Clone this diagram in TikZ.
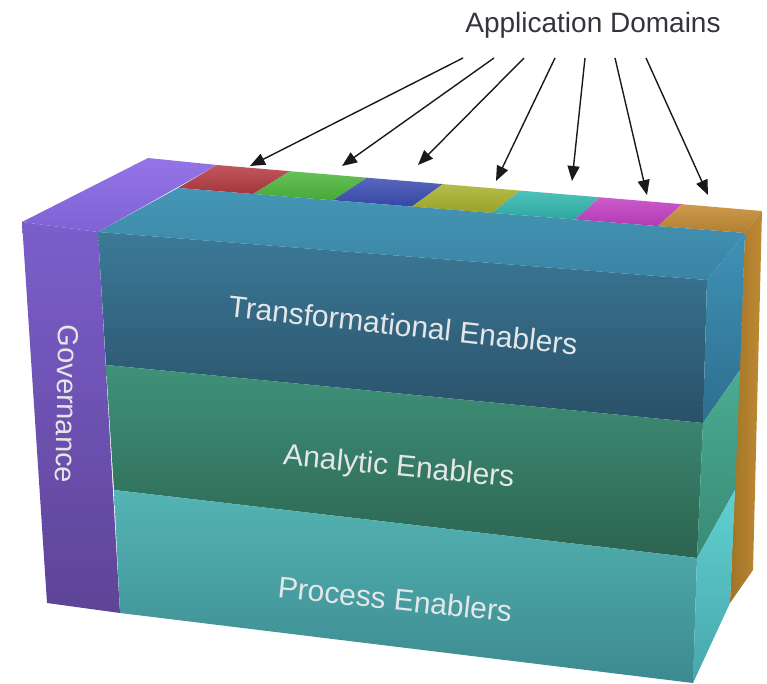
\documentclass[tikz,border=0pt]{standalone}
\usepackage{fontspec}
\setmainfont{Liberation Sans}
\usetikzlibrary{arrows.meta}
\definecolor{purpTopA}{HTML}{9474E6}
\definecolor{purpTopB}{HTML}{8062D4}
\definecolor{purpFrA}{HTML}{7C5ECC}
\definecolor{purpFrB}{HTML}{5E4496}
\definecolor{tRed}{HTML}{B63A42}
\definecolor{tGreen}{HTML}{4CB63C}
\definecolor{tBlue}{HTML}{3A4CB2}
\definecolor{tYellow}{HTML}{A8B02C}
\definecolor{tCyan}{HTML}{30B6AE}
\definecolor{tMag}{HTML}{C23EC2}
\definecolor{tOrange}{HTML}{C89038}
\definecolor{orRA}{HTML}{C08A34}
\definecolor{orRB}{HTML}{A07426}
\definecolor{trTopA}{HTML}{4596B6}
\definecolor{trTopB}{HTML}{3A84A4}
\definecolor{trFrA}{HTML}{3B7A98}
\definecolor{trFrB}{HTML}{2A5068}
\definecolor{trRA}{HTML}{3E92B6}
\definecolor{trRB}{HTML}{2F6E8E}
\definecolor{anFrA}{HTML}{3F927A}
\definecolor{anFrB}{HTML}{2C6450}
\definecolor{anRA}{HTML}{4AAC92}
\definecolor{anRB}{HTML}{3A8A74}
\definecolor{prFrA}{HTML}{54B4B4}
\definecolor{prFrB}{HTML}{3C8A90}
\definecolor{prRA}{HTML}{60D0D0}
\definecolor{prRB}{HTML}{48A6AC}
\definecolor{lblgray}{HTML}{E4E6E8}
\definecolor{titlecol}{HTML}{34343E}
\definecolor{arrcol}{HTML}{1A1A1A}
\begin{document}
\begin{tikzpicture}[x=1pt,y=-1pt,
  lbl/.style={text=lblgray,font=\fontsize{30}{36}\selectfont,inner sep=0pt},
  govlbl/.style={text=lblgray,font=\fontsize{29}{34}\selectfont,inner sep=0pt},
  titlelbl/.style={text=titlecol,font=\fontsize{28}{34}\selectfont,inner sep=0pt},
  arr/.style={draw=arrcol,line width=1.4pt,-{Triangle[length=15pt,width=12pt]}}]
\useasboundingbox (0,0) rectangle (767,684);
% key points
\coordinate (P1) at (22,222);
\coordinate (P2) at (148,158);
\coordinate (P3) at (217,165);
\coordinate (P4) at (98,232);
\coordinate (P5) at (120,613);
\coordinate (P6) at (47,603);
% tab back edge
\coordinate (B0) at (217,165);
\coordinate (B1) at (290,171.2);
\coordinate (B2) at (367,177.7);
\coordinate (B3) at (443,184.1);
\coordinate (B4) at (520,190.6);
\coordinate (B5) at (600,197.3);
\coordinate (B6) at (682,204.2);
\coordinate (B7) at (762,211);
% tab front edge
\coordinate (F0) at (178,188);
\coordinate (F1) at (253,194);
\coordinate (F2) at (333,200.3);
\coordinate (F3) at (412,206.6);
\coordinate (F4) at (492,212.9);
\coordinate (F5) at (575,219.5);
\coordinate (F6) at (658,226.1);
\coordinate (F7) at (745,233);
% layer corners
\coordinate (L1) at (106,365);
\coordinate (L2) at (114,490);
\coordinate (R0) at (707,280);
\coordinate (R1) at (703,423);
\coordinate (R2) at (697,558);
\coordinate (R3) at (693,683);
\coordinate (K1) at (740,370);
\coordinate (K2) at (735,490);
\coordinate (K3) at (730,603);
\coordinate (O1) at (753,570);

% Governance
\shade[top color=purpTopA,bottom color=purpTopB] (P1)--(P2)--(P3)--(P4)--cycle;
\shade[top color=purpFrA,bottom color=purpFrB] (P1)--(P4)--(P5)--(P6)--cycle;
% application domain tabs
\shade[top color=tRed!85!white,bottom color=tRed!90!black] (B0)--(B1)--(F1)--(F0)--cycle;
\shade[top color=tGreen!85!white,bottom color=tGreen!92!black] (B1)--(B2)--(F2)--(F1)--cycle;
\shade[top color=tBlue!85!white,bottom color=tBlue!92!black] (B2)--(B3)--(F3)--(F2)--cycle;
\shade[top color=tYellow!85!white,bottom color=tYellow!92!black] (B3)--(B4)--(F4)--(F3)--cycle;
\shade[top color=tCyan!85!white,bottom color=tCyan!92!black] (B4)--(B5)--(F5)--(F4)--cycle;
\shade[top color=tMag!85!white,bottom color=tMag!92!black] (B5)--(B6)--(F6)--(F5)--cycle;
\shade[top color=tOrange!90!white,bottom color=tOrange!88!black] (B6)--(B7)--(F7)--(F6)--cycle;
\shade[left color=orRB,right color=orRA] (F7)--(B7)--(O1)--(K3)--cycle;
% Transformational layer
\shade[top color=trTopA,bottom color=trTopB] (P4)--(F0)--(F7)--(R0)--cycle;
\shade[top color=trFrA,bottom color=trFrB] (P4)--(R0)--(R1)--(L1)--cycle;
\shade[top color=trRA,bottom color=trRB] (R0)--(F7)--(K1)--(R1)--cycle;
% Analytic layer
\shade[top color=anFrA,bottom color=anFrB] (L1)--(R1)--(R2)--(L2)--cycle;
\shade[top color=anRA,bottom color=anRB] (R1)--(K1)--(K2)--(R2)--cycle;
% Process layer
\shade[top color=prFrA,bottom color=prFrB] (L2)--(R2)--(R3)--(P5)--cycle;
\shade[top color=prRA,bottom color=prRB] (R2)--(K2)--(K3)--(R3)--cycle;

% labels
\node[lbl,anchor=base,rotate=-6.3] (trans) at (402,336) {Transformational Enablers};
\node[lbl,anchor=base,rotate=-5.5] (anal) at (398,476) {Analytic Enablers};
\node[lbl,anchor=base,rotate=-6] (proc) at (394,610) {Process Enablers};
\node[govlbl,rotate=-91] (gov) at (67,404) {Governance};
\node[titlelbl,anchor=base] (title) at (593,33) {Application Domains};

% arrows
\coordinate (s1) at (463,58); \coordinate (t1) at (250,166);
\coordinate (s2) at (494,58); \coordinate (t2) at (342,166);
\coordinate (s3) at (524,58); \coordinate (t3) at (418,165);
\coordinate (s4) at (555,58); \coordinate (t4) at (496,181);
\coordinate (s5) at (585,58); \coordinate (t5) at (572,181);
\coordinate (s6) at (615,58); \coordinate (t6) at (647,195);
\coordinate (s7) at (646,58); \coordinate (t7) at (708,195);
\foreach \i in {1,...,7} {\draw[arr] (s\i) -- (t\i);}
\end{tikzpicture}
\end{document}
